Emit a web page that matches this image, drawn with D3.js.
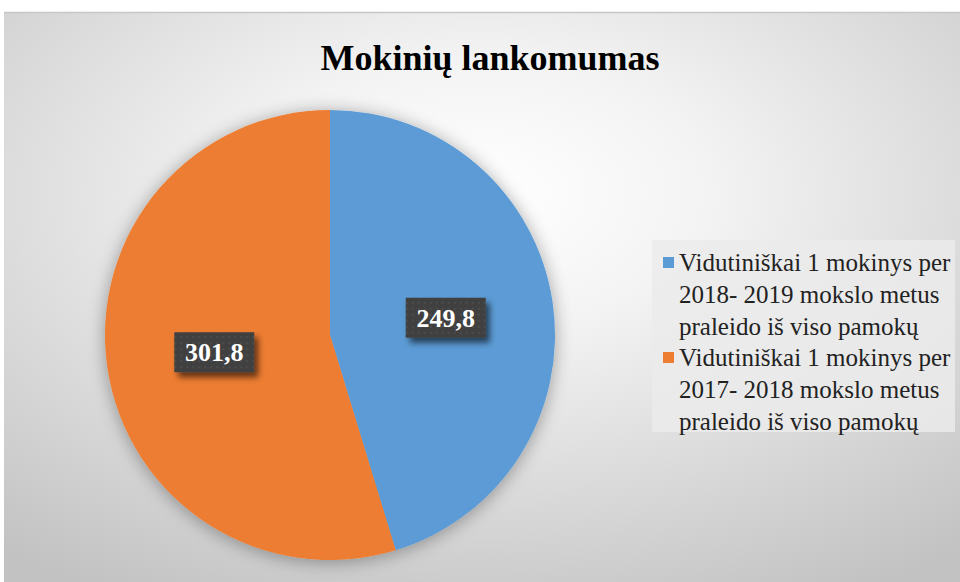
<!DOCTYPE html>
<html><head><meta charset="utf-8">
<script src="https://cdn.jsdelivr.net/npm/d3@7"></script>
<style>html,body{margin:0;padding:0;background:#fff;}svg{display:block;}</style>
</head><body>
<script>
const title = "Mokinių lankomumas";
const categories = [
  ["Vidutiniškai 1 mokinys per", "2018- 2019 mokslo metus", "praleido iš viso pamokų"],
  ["Vidutiniškai 1 mokinys per", "2017- 2018 mokslo metus", "praleido iš viso pamokų"]
];
const values = [249.8, 301.8];
const valueLabels = ["249,8", "301,8"];
const colors = ["#5b9bd5", "#ed7d31"];

const W = 960, H = 582;
const svg = d3.select("body").append("svg").attr("width", W).attr("height", H);
const defs = svg.append("defs");

const rg = defs.append("radialGradient").attr("id", "bg")
  .attr("cx", "50%").attr("cy", "32%").attr("r", "80%");
rg.append("stop").attr("offset", "0%").attr("stop-color", "#ffffff");
rg.append("stop").attr("offset", "30%").attr("stop-color", "#f3f3f3");
rg.append("stop").attr("offset", "100%").attr("stop-color", "#c2c2c2");

const sh = defs.append("filter").attr("id", "pieShadow").attr("x", "-20%").attr("y", "-20%").attr("width", "140%").attr("height", "140%");
sh.append("feGaussianBlur").attr("in", "SourceAlpha").attr("stdDeviation", 9).attr("result", "b");
sh.append("feOffset").attr("in", "b").attr("dx", 0).attr("dy", 2).attr("result", "o");
sh.append("feComponentTransfer").attr("in", "o").attr("result", "o2")
  .append("feFuncA").attr("type", "linear").attr("slope", 0.35);
const m = sh.append("feMerge");
m.append("feMergeNode").attr("in", "o2");
m.append("feMergeNode").attr("in", "SourceGraphic");

const ls = defs.append("filter").attr("id", "lblShadow").attr("x", "-30%").attr("y", "-30%").attr("width", "160%").attr("height", "180%");
ls.append("feGaussianBlur").attr("in", "SourceAlpha").attr("stdDeviation", 3).attr("result", "b");
ls.append("feOffset").attr("in", "b").attr("dx", 4).attr("dy", 5).attr("result", "o");
ls.append("feComponentTransfer").attr("in", "o").attr("result", "o2")
  .append("feFuncA").attr("type", "linear").attr("slope", 0.6);
const m2 = ls.append("feMerge");
m2.append("feMergeNode").attr("in", "o2");
m2.append("feMergeNode").attr("in", "SourceGraphic");

const pat = defs.append("pattern").attr("id", "dots").attr("patternUnits", "userSpaceOnUse")
  .attr("width", 6).attr("height", 6);
pat.append("rect").attr("width", 6).attr("height", 6).attr("fill", "#404040");
pat.append("circle").attr("cx", 3).attr("cy", 3).attr("r", 1.1).attr("fill", "#4e4e4e");

// chart area
svg.append("rect").attr("x", 4).attr("y", 12).attr("width", W - 4).attr("height", H - 12)
  .attr("fill", "url(#bg)");
svg.append("line").attr("x1", 4).attr("x2", W).attr("y1", 12.5).attr("y2", 12.5)
  .attr("stroke", "#c6c6c6").attr("stroke-width", 1.5);

svg.append("text").attr("x", 490).attr("y", 70).attr("text-anchor", "middle")
  .attr("font-family", "'Liberation Serif','Times New Roman',serif").attr("font-weight", "bold")
  .attr("font-size", 36).attr("fill", "#000").text(title);

const cx = 330, cy = 335, R = 225;
const pie = d3.pie().sort(null).value(d => d)(values);
const arc = d3.arc().innerRadius(0).outerRadius(R);
const labelArc = d3.arc().innerRadius(R * 0.52).outerRadius(R * 0.52);

const g = svg.append("g").attr("transform", `translate(${cx},${cy})`);
g.append("g").attr("filter", "url(#pieShadow)")
  .selectAll("path").data(pie).join("path")
  .attr("d", arc).attr("fill", (d, i) => colors[i]);

const lg = g.selectAll("g.lbl").data(pie).join("g").attr("class", "lbl")
  .attr("transform", d => `translate(${labelArc.centroid(d)})`);
lg.append("rect").attr("x", -40).attr("y", -20).attr("width", 80).attr("height", 40)
  .attr("fill", "url(#dots)").attr("filter", "url(#lblShadow)");
lg.append("text").attr("text-anchor", "middle").attr("y", 9)
  .attr("font-family", "'Liberation Serif','Times New Roman',serif").attr("font-weight", "bold")
  .attr("font-size", 26).attr("fill", "#fff").text((d, i) => valueLabels[i]);

// legend
const leg = svg.append("g");
leg.append("rect").attr("x", 652).attr("y", 240).attr("width", 303).attr("height", 192).attr("fill", "#ebebeb").attr("opacity", 0.85);
const lineH = 32;
categories.forEach((lines, i) => {
  const y0 = 271 + i * 95;
  leg.append("rect").attr("x", 663).attr("y", y0 - 14).attr("width", 11).attr("height", 11).attr("fill", colors[i]);
  lines.forEach((t, j) => {
    leg.append("text").attr("x", 679).attr("y", y0 + j * lineH)
      .attr("font-family", "'Liberation Serif','Times New Roman',serif")
      .attr("font-size", 25).attr("fill", "#222").text(t);
  });
});
</script>
</body></html>
